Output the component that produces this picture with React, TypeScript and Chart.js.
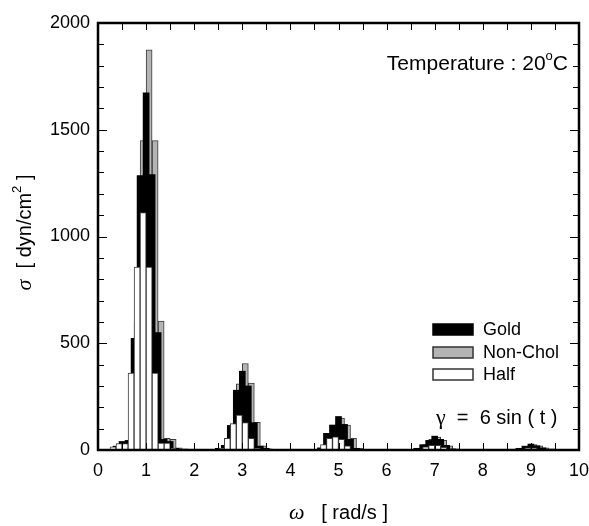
import React, { useEffect, useRef } from "react";
import { Chart, registerables } from "chart.js";

Chart.register(...registerables);

// ---------- data ----------
const halfOmega = [
  0.3125, 0.4375, 0.5625, 0.6875, 0.8125, 0.9375, 1.0625, 1.1875, 1.3125, 1.4375, 1.5625,
  2.5625, 2.6875, 2.8125, 2.9375, 3.0625, 3.1875, 3.3125,
  4.6875, 4.8125, 4.9375, 5.0625, 5.1875,
  6.8125, 6.9375, 7.0625, 7.1875,
  8.9375, 9.0625,
];
const halfValues = [
  15, 30, 30, 360, 857, 1112, 857, 360, 32, 32, 8,
  8, 55, 124, 164, 128, 55, 8,
  25, 55, 62, 50, 20,
  15, 22, 22, 12,
  10, 10,
];

const goldOmega = [
  0.375, 0.5, 0.625, 0.75, 0.875, 1.0, 1.125, 1.25, 1.375, 1.5, 1.625,
  2.5, 2.625, 2.75, 2.875, 3.0, 3.125, 3.25, 3.375, 3.5,
  4.625, 4.75, 4.875, 5.0, 5.125, 5.25, 5.375,
  6.625, 6.75, 6.875, 7.0, 7.125, 7.25, 7.375,
  8.75, 8.875, 9.0, 9.125, 9.25,
];
const goldValues = [
  18, 40, 45, 523, 1285, 1673, 1290, 550, 50, 40, 8,
  8, 22, 115, 280, 369, 300, 128, 18, 8,
  10, 78, 117, 157, 120, 50, 8,
  8, 25, 45, 65, 50, 22, 5,
  8, 18, 28, 20, 10,
];

const nonCholOmega = [
  0.4375, 0.5625, 0.6875, 0.8125, 0.9375, 1.0625, 1.1875, 1.3125, 1.4375, 1.5625, 1.6875, 1.8125,
  2.6875, 2.8125, 2.9375, 3.0625, 3.1875, 3.3125, 3.4375, 3.5625,
  4.8125, 4.9375, 5.0625, 5.1875, 5.3125, 5.4375,
  6.8125, 6.9375, 7.0625, 7.1875, 7.3125, 7.4375,
  8.9375, 9.0625, 9.1875, 9.3125, 9.4375,
];
const nonCholValues = [
  15, 25, 40, 600, 1449, 1874, 1449, 604, 55, 50, 10, 5,
  15, 120, 310, 405, 313, 130, 20, 6,
  60, 115, 150, 117, 55, 8,
  25, 50, 60, 45, 20, 5,
  18, 25, 20, 10, 5,
];

const xTickValues = [0, 1, 2, 3, 4, 5, 6, 7, 8, 9, 10];
const yTickValues = [0, 500, 1000, 1500, 2000];
const legendOrder = ["Gold", "Non-Chol", "Half"];

const SANS = '"Liberation Sans", Arial, sans-serif';
const SERIF = '"Liberation Serif", "Times New Roman", serif';

type Part = { text: string; font: string; dy?: number };

function richWidth(ctx: CanvasRenderingContext2D, parts: Part[]) {
  let w = 0;
  for (const p of parts) {
    ctx.font = p.font;
    w += ctx.measureText(p.text).width;
  }
  return w;
}

function drawRich(
  ctx: CanvasRenderingContext2D,
  parts: Part[],
  x: number,
  y: number,
  align: "left" | "center" | "right"
) {
  const total = richWidth(ctx, parts);
  let cx = align === "left" ? x : align === "center" ? x - total / 2 : x - total;
  ctx.textAlign = "left";
  ctx.textBaseline = "middle";
  for (const p of parts) {
    ctx.font = p.font;
    ctx.fillText(p.text, cx, y + (p.dy || 0));
    cx += ctx.measureText(p.text).width;
  }
}

const framePlugin = {
  id: "frameAndText",
  afterDatasetsDraw(chart: any) {
    const { ctx, chartArea } = chart;
    const xs = chart.scales.x;
    const ys = chart.scales.y;
    const { left, right, top, bottom } = chartArea;
    ctx.save();
    ctx.strokeStyle = "#000";
    ctx.lineWidth = 1;
    ctx.beginPath();
    for (let v = 0; v <= 10.0001; v += 0.5) {
      const px = Math.round(xs.getPixelForValue(v)) + 0.5;
      const len = 7;
      ctx.moveTo(px, bottom);
      ctx.lineTo(px, bottom - len);
      ctx.moveTo(px, top);
      ctx.lineTo(px, top + len);
    }
    for (let v = 0; v <= 2000.0001; v += 100) {
      const py = Math.round(ys.getPixelForValue(v)) + 0.5;
      const len = v % 500 === 0 ? 9 : 6;
      ctx.moveTo(left, py);
      ctx.lineTo(left + len, py);
      ctx.moveTo(right, py);
      ctx.lineTo(right - len, py);
    }
    ctx.stroke();
    ctx.lineWidth = 2.5;
    ctx.strokeRect(left, top, right - left, bottom - top);
    ctx.restore();
  },
  afterDraw(chart: any) {
    const { ctx, chartArea } = chart;
    ctx.save();
    ctx.fillStyle = "#000";

    // legend
    const rowsY = [329, 352, 374];
    legendOrder.forEach((name, i) => {
      const ds = chart.data.datasets.find((d: any) => d.label === name);
      const y = rowsY[i];
      ctx.fillStyle = ds.backgroundColor;
      ctx.fillRect(433, y - 5, 40, 11);
      ctx.lineWidth = 1.5;
      ctx.strokeStyle = name === "Gold" ? "#000" : "#333";
      ctx.strokeRect(433, y - 5, 40, 11);
      ctx.fillStyle = "#000";
      ctx.font = `18px ${SANS}`;
      ctx.textAlign = "left";
      ctx.textBaseline = "middle";
      ctx.fillText(name, 483, y + 1);
    });

    // temperature note
    drawRich(
      ctx,
      [
        { text: "Temperature : 20", font: `21px ${SANS}` },
        { text: "o", font: `13px ${SANS}`, dy: -8 },
        { text: "C", font: `21px ${SANS}` },
      ],
      chartArea.right - 11,
      64,
      "right"
    );

    // gamma note
    drawRich(
      ctx,
      [
        { text: "\u03B3", font: `22px ${SERIF}` },
        { text: "  =  6 sin ( t )", font: `20px ${SANS}` },
      ],
      436,
      418,
      "left"
    );

    // x title
    drawRich(
      ctx,
      [
        { text: "\u03C9", font: `italic 22px ${SERIF}` },
        { text: "   [ rad/s ]", font: `20px ${SANS}` },
      ],
      (chartArea.left + chartArea.right) / 2,
      513,
      "center"
    );

    // y title (rotated)
    ctx.translate(25, (chartArea.top + chartArea.bottom) / 2 - 4);
    ctx.rotate(-Math.PI / 2);
    drawRich(
      ctx,
      [
        { text: "\u03C3", font: `italic 22px ${SERIF}` },
        { text: "  [ dyn/cm", font: `20px ${SANS}` },
        { text: "2", font: `13px ${SANS}`, dy: -8 },
        { text: " ]", font: `20px ${SANS}` },
      ],
      0,
      0,
      "center"
    );
    ctx.restore();
  },
};

export default function App() {
  const canvasRef = useRef<HTMLCanvasElement | null>(null);

  useEffect(() => {
    const canvas = canvasRef.current;
    if (!canvas) return;
    const barCommon = {
      grouped: false,
      barThickness: 6,
      borderSkipped: "bottom",
    };
    const chart = new Chart(canvas, {
      type: "bar",
      data: {
        datasets: [
          {
            label: "Half",
            data: halfOmega.map((x, i) => ({ x, y: halfValues[i] })),
            backgroundColor: "#ffffff",
            borderColor: "#3a3a3a",
            borderWidth: 1,
            order: 0,
            ...barCommon,
          },
          {
            label: "Gold",
            data: goldOmega.map((x, i) => ({ x, y: goldValues[i] })),
            backgroundColor: "#000000",
            borderColor: "#000000",
            borderWidth: 0,
            order: 1,
            ...barCommon,
          },
          {
            label: "Non-Chol",
            data: nonCholOmega.map((x, i) => ({ x, y: nonCholValues[i] })),
            backgroundColor: "#b4b4b4",
            borderColor: "#3a3a3a",
            borderWidth: 1,
            order: 2,
            ...barCommon,
          },
        ] as any,
      },
      options: {
        animation: false,
        responsive: false,
        maintainAspectRatio: false,
        layout: { padding: { top: 23, right: 10, left: 0, bottom: 0 } },
        plugins: { legend: { display: false }, tooltip: { enabled: false } },
        scales: {
          x: {
            type: "linear",
            min: 0,
            max: 10,
            offset: false,
            afterBuildTicks: (s: any) => {
              s.ticks = xTickValues.map((v) => ({ value: v }));
            },
            ticks: {
              font: { family: SANS, size: 18 },
              color: "#000",
              padding: 10,
              maxRotation: 0,
              autoSkip: false,
              callback: (v: any) => String(v),
            },
            grid: { display: false, drawTicks: false },
            border: { display: false },
            afterFit: (s: any) => {
              s.height = 76;
              s.paddingLeft = 0;
              s.paddingRight = 0;
            },
          },
          y: {
            type: "linear",
            min: 0,
            max: 2000,
            afterBuildTicks: (s: any) => {
              s.ticks = yTickValues.map((v) => ({ value: v }));
            },
            ticks: {
              font: { family: SANS, size: 18 },
              color: "#000",
              padding: 8,
              autoSkip: false,
              callback: (v: any) => String(v),
            },
            grid: { display: false, drawTicks: false },
            border: { display: false },
            afterFit: (s: any) => {
              s.width = 98;
              s.paddingTop = 0;
              s.paddingBottom = 0;
            },
          },
        },
      } as any,
      plugins: [framePlugin],
    });
    return () => chart.destroy();
  }, []);

  return (
    <div style={{ position: "absolute", left: 0, top: 0, width: 589, height: 526, background: "#fff" }}>
      <canvas ref={canvasRef} width={589} height={526} style={{ width: 589, height: 526, display: "block" }} />
    </div>
  );
}
